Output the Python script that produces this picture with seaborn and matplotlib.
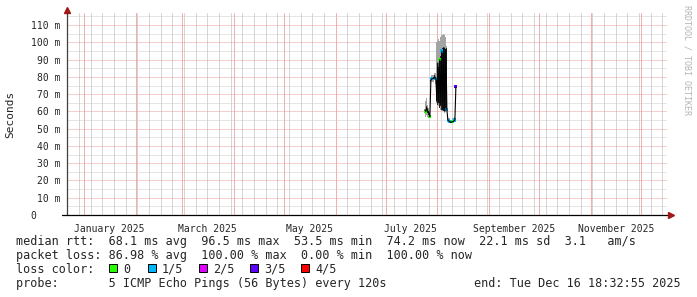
import matplotlib
matplotlib.use("Agg")
import matplotlib.pyplot as plt
import matplotlib.dates as mdates
from matplotlib.ticker import MultipleLocator
from matplotlib.patches import Rectangle
import pandas as pd
import seaborn as sns

# ---------------- data ----------------
range_start = "2024-12-21 18:32:55"
range_end = "2025-12-16 18:32:55"
series_start = "2025-07-24 12:00"
series_step = "14h24min"

median_ms = [61, 60, 62, 60, 59, 57, 78, 79, 79, 79, 80, 79, 66, 88, 65, 90,
             64, 95, 61, 97, 60, 96, 61, 55, 54.5, 54, 53.5, 54, 54, 54.5, 55, 74.2]
smoke_hi_ms = [68, 66, 68, 64, 62, 60, 80, 81, 81, 81, 82, 82, 100, 101, 102, 101,
               103, 104, 104, 105, 104, 103, 98, 56, 56, 56, 55, 55, 56, 56, 57, 75]
smoke_lo_ms = [58, 57, 58, 57, 56, 56, 76, 77, 77, 77, 78, 76, 65, 64, 63, 62,
               61, 60, 60, 60, 59, 60, 60, 54, 53.5, 53, 53, 53, 53, 53.5, 54, 73]
inner_hi_ms = [62, 61, 63, 61, 60, 58, 79, 80, 80, 80, 81, 80, 80, 88, 86, 90,
               92, 95, 97, 97, 97, 96, 97, 55.5, 55, 54.5, 54, 54.5, 54.5, 55, 55.5, 74.6]
inner_lo_ms = [60, 59, 61, 59, 58, 56.5, 77.5, 78.5, 78.5, 78.5, 79, 78, 66, 64, 65, 62,
               63, 61, 61, 60, 60, 61, 61, 54.5, 54, 53.5, 53, 53.5, 53.5, 54, 54.5, 73.8]
loss_mark = ["", "0", "", "", "", "0", "", "1/5", "", "", "", "1/5", "", "", "", "0",
             "", "1/5", "", "", "", "", "1/5", "", "1/5", "1/5", "", "", "0", "", "1/5", "3/5"]

loss_labels = ["0", "1/5", "2/5", "3/5", "4/5"]
loss_colors = ["#26ff00", "#00b8ff", "#dd00ff", "#5e00ff", "#ff0000"]

ytick_vals = [0, 0.01, 0.02, 0.03, 0.04, 0.05, 0.06, 0.07, 0.08, 0.09, 0.10, 0.11]
ytick_labels = ["0    ", "10 m", "20 m", "30 m", "40 m", "50 m", "60 m", "70 m",
                "80 m", "90 m", "100 m", "110 m"]

month_label_dates = ["2025-01-16", "2025-03-16", "2025-05-16", "2025-07-16",
                     "2025-09-16", "2025-11-16"]
month_labels = ["January 2025", "March 2025", "May 2025", "July 2025",
                "September 2025", "November 2025"]

legend_rows = [
    "median rtt:  68.1 ms avg  96.5 ms max  53.5 ms min  74.2 ms now  22.1 ms sd  3.1   am/s",
    "packet loss: 86.98 % avg  100.00 % max  0.00 % min  100.00 % now",
    "loss color:",
    "probe:       5 ICMP Echo Pings (56 Bytes) every 120s",
]
end_text = "end: Tue Dec 16 18:32:55 2025"

# ---------------- frame ----------------
times = pd.date_range(series_start, periods=len(median_ms), freq=series_step)
df = pd.DataFrame({
    "time": times,
    "median": [v / 1000 for v in median_ms],
    "lo": [v / 1000 for v in smoke_lo_ms],
    "hi": [v / 1000 for v in smoke_hi_ms],
    "ilo": [v / 1000 for v in inner_lo_ms],
    "ihi": [v / 1000 for v in inner_hi_ms],
    "loss": loss_mark,
})

sns.set_style("white")
plt.rcParams["font.family"] = ["DejaVu Sans Mono"]

W, H = 697, 297
fig = plt.figure(figsize=(W / 100, H / 100), dpi=100)
fig.patch.set_facecolor("white")
ax = fig.add_axes([67 / W, (H - 215) / H, 600 / W, (215 - 13) / H])
ax.set_facecolor("white")

# smoke + median
ax.fill_between(df["time"], df["lo"], df["hi"], step="mid", color="#a4a4a4", linewidth=0)
ax.fill_between(df["time"], df["ilo"], df["ihi"], step="mid", color="#262626", linewidth=0)
sns.lineplot(data=df, x="time", y="median", ax=ax, color="black", linewidth=0.8,
             estimator=None, legend=False)
marks = df[df["loss"] != ""]
sns.scatterplot(data=marks, x="time", y="median", hue="loss", ax=ax,
                palette=dict(zip(loss_labels, loss_colors)), marker="s", s=5,
                linewidth=0, legend=False)
ax.set_xlabel("")
ax.set_ylabel("")

x0, x1 = pd.Timestamp(range_start), pd.Timestamp(range_end)
ax.set_xlim(mdates.date2num(x0), mdates.date2num(x1))
ax.set_ylim(0, 0.117)

# grid positions (month starts = major, Sundays = minor)
month_starts = pd.date_range(x0.normalize(), x1, freq="MS")
week_starts = pd.date_range(x0.normalize(), x1, freq="W-SUN")
ax.set_xticks(mdates.date2num(month_starts))
ax.set_xticks(mdates.date2num(week_starts), minor=True)
ax.set_yticks(ytick_vals)
ax.set_yticklabels(ytick_labels, fontsize=7)
ax.yaxis.set_minor_locator(MultipleLocator(0.005))
ax.xaxis.grid(True, which="minor", color="#d6d6d6", linestyle="-", linewidth=0.72)
ax.xaxis.grid(True, which="major", color="#f0b0b0", linestyle="-", linewidth=0.72)
ax.yaxis.grid(True, which="minor", color="#cccccc", linestyle=(0, (1, 1)), linewidth=0.72)
ax.yaxis.grid(True, which="major", color="#e8a0a0", linestyle=(0, (1, 1)), linewidth=0.72)
ax.set_axisbelow(True)
ax.tick_params(axis="x", which="both", labelbottom=False)
ax.tick_params(axis="x", which="major", length=2, width=0.7, direction="inout", color="#555555")
ax.tick_params(axis="x", which="minor", length=1.2, width=0.6, direction="in", color="#999999")
ax.tick_params(axis="y", which="major", length=2, width=0.7, direction="out", pad=3, color="#777777")
ax.tick_params(axis="y", which="minor", length=1.2, width=0.6, direction="in", color="#999999")
for s in ax.spines.values():
    s.set_visible(False)

# axes lines with arrows
ax.plot([0, 0], [0, 1.005], transform=ax.transAxes, color="#404040", lw=0.9, clip_on=False)
ax.plot([-0.008, 1.005], [0, 0], transform=ax.transAxes, color="black", lw=0.9, clip_on=False)
ax.plot([0], [1.013], marker="^", ms=4, color="#a01818", transform=ax.transAxes, clip_on=False)
ax.plot([1.007], [0], marker=">", ms=4, color="#a01818", transform=ax.transAxes, clip_on=False)

# month labels
for d, lab in zip(month_label_dates, month_labels):
    ax.text(mdates.date2num(pd.Timestamp(d)), -0.045, lab, transform=ax.get_xaxis_transform(),
            ha="center", va="top", fontsize=7, clip_on=False)

def fx(px):
    return px / W

def fy(py):
    return 1 - py / H

fig.text(fx(10), fy(114), "Seconds", rotation=90, fontsize=8, ha="center", va="center")
fig.text(fx(687), fy(60), "RRDTOOL / TOBI OETIKER", rotation=270, fontsize=6,
         color="#b4b4b4", ha="center", va="center")

# legend rows
baselines = [245, 259, 273, 287]
for txt, b in zip(legend_rows, baselines):
    fig.text(fx(16), fy(b), txt, fontsize=8.5, ha="left", va="baseline")
fig.text(fx(681), fy(287), end_text, fontsize=8.5, ha="right", va="baseline")

box_x = [109, 148, 199, 250, 301]
for bx, lab, col in zip(box_x, loss_labels, loss_colors):
    fig.patches.append(Rectangle((fx(bx), fy(272)), 8 / W, 8 / H, transform=fig.transFigure,
                                 facecolor=col, edgecolor="black", linewidth=0.7))
    fig.text(fx(bx + 14), fy(273), lab, fontsize=8.5, ha="left", va="baseline")

fig.savefig("out.png", dpi=100, facecolor="white")
